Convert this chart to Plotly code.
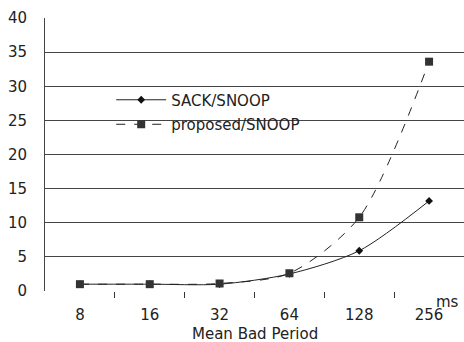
import plotly.graph_objects as go

categories = ["8", "16", "32", "64", "128", "256"]
sack_snoop = [1.0, 1.0, 1.0, 2.5, 5.9, 13.2]
proposed_snoop = [1.0, 1.0, 1.1, 2.6, 10.8, 33.6]
y_ticks = [0, 5, 10, 15, 20, 25, 30, 35, 40]

xs = list(range(len(categories)))
boundaries = [i + 0.5 for i in xs[:-1]]
FONT = "DejaVu Sans"
fsize = 15
tcol = "#222"

fig = go.Figure()
fig.add_trace(go.Scatter(
    x=xs, y=sack_snoop, name="SACK/SNOOP", mode="lines+markers",
    legendgroup="a",
    line=dict(color="#222", width=1, shape="spline", smoothing=0.8),
    marker=dict(symbol="diamond", size=6, color="#111"),
))
fig.add_trace(go.Scatter(
    x=xs, y=proposed_snoop, name="proposed/SNOOP", mode="lines+markers",
    legendgroup="b",
    line=dict(color="#222", width=1, dash="dash", shape="spline", smoothing=0.8),
    marker=dict(symbol="square", size=8, color="#333"),
))
# helper trace so the label axis is drawn
fig.add_trace(go.Scatter(x=[None], y=[None], xaxis="x2", showlegend=False,
                         hoverinfo="skip", mode="lines"))

fig.update_layout(
    width=464, height=342,
    margin=dict(l=45, r=0, t=18, b=51, autoexpand=False),
    paper_bgcolor="white", plot_bgcolor="white",
    font=dict(family=FONT, size=fsize, color=tcol),
    showlegend=True,
    legend=dict(x=0.158, y=0.76, xanchor="left", yanchor="top",
                bgcolor="rgba(0,0,0,0)", itemwidth=50,
                font=dict(family=FONT, size=fsize, color=tcol),
                tracegroupgap=2),
    xaxis=dict(
        range=[-0.5, 5.5], tickmode="array", tickvals=boundaries,
        ticktext=[""] * len(boundaries),
        showgrid=False, ticks="outside", ticklen=6, tickcolor="#333",
        showline=False, zeroline=False, automargin=False,
    ),
    xaxis2=dict(
        overlaying="x", side="bottom", anchor="y",
        range=[-0.5, 5.5], tickmode="array", tickvals=xs, ticktext=categories,
        showgrid=False, ticks="", ticklabelstandoff=13,
        showline=False, zeroline=False, automargin=False,
    ),
    yaxis=dict(
        range=[0, 40], tickvals=y_ticks, showgrid=True, gridcolor="#444",
        gridwidth=1.2, zeroline=False, showline=True, linecolor="#444",
        linewidth=1, ticks="", ticklabelstandoff=14, automargin=False,
    ),
    annotations=[
        dict(text="ms", x=5.27, y=0, xref="x", yref="paper", yanchor="middle",
             yshift=-11, showarrow=False,
             font=dict(family=FONT, size=fsize, color=tcol)),
        dict(text="Mean Bad Period", x=0.5, y=0, xref="paper", yref="paper",
             yanchor="middle", yshift=-43, showarrow=False,
             font=dict(family=FONT, size=fsize, color=tcol)),
    ],
)

fig.write_html("out.html", config={"displayModeBar": False},
               post_script="document.body.style.margin='0';")
